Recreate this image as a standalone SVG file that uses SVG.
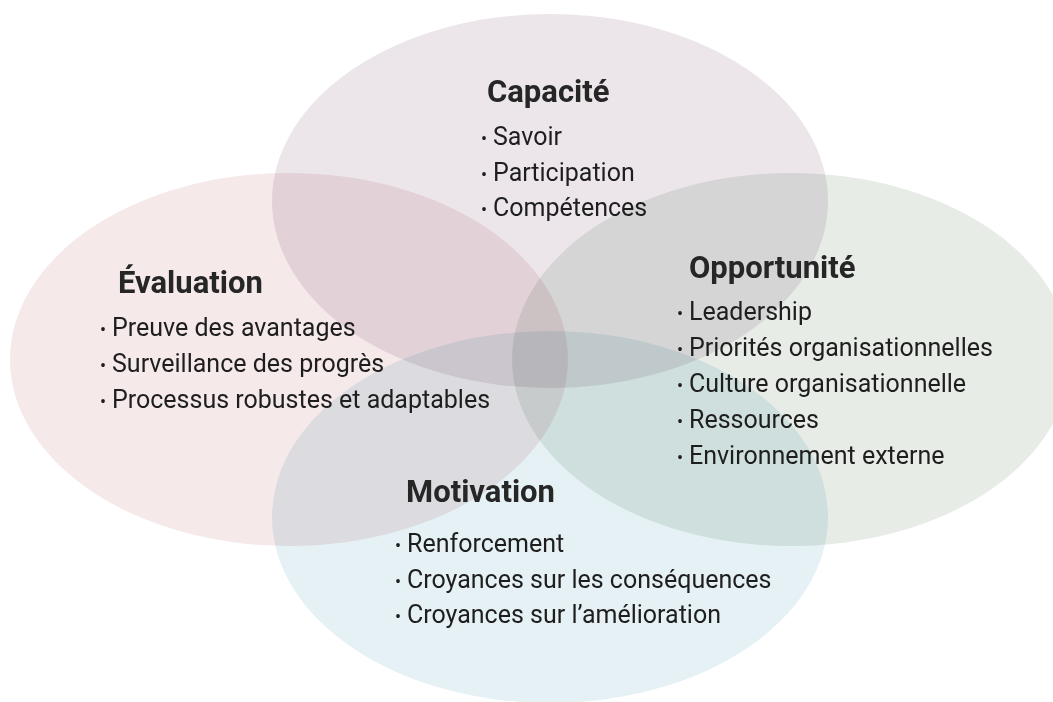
<svg xmlns="http://www.w3.org/2000/svg" width="1053" height="702" viewBox="0 0 1053 702">
<style>
.e{mix-blend-mode:multiply}
.t{font-family:Roboto,"Noto Sans",sans-serif;font-weight:700;font-size:31px;fill:#262626}
.i{font-family:Roboto,"Noto Sans",sans-serif;font-size:25px;fill:#1e1e1e}
.b{font-size:18px}
</style>
<rect width="1053" height="702" fill="#ffffff"/>
<g id="ellipses">
<ellipse id="e-capacite" class="e" cx="550" cy="201" rx="278" ry="187" fill="#ECE6EB"/>
<ellipse id="e-evaluation" class="e" cx="289" cy="359.5" rx="279" ry="186.5" fill="#F5E9EA"/>
<ellipse id="e-opportunite" class="e" cx="791" cy="359.5" rx="279" ry="186.5" fill="#E7ECE7"/>
<ellipse id="e-motivation" class="e" cx="550" cy="517" rx="278" ry="186" fill="#E5F1F5"/>
</g>
<g id="connectors"></g>
<g id="capacite">
<text class="t" x="487" y="102">Capacité</text>
<text class="i" y="145"><tspan class="b" x="481">•</tspan><tspan x="493">Savoir</tspan></text>
<text class="i" y="180.5"><tspan class="b" x="481">•</tspan><tspan x="493">Participation</tspan></text>
<text class="i" y="216"><tspan class="b" x="481">•</tspan><tspan x="493">Compétences</tspan></text>
</g>
<g id="evaluation">
<text class="t" x="118" y="293">Évaluation</text>
<text class="i" y="336"><tspan class="b" x="100">•</tspan><tspan x="112">Preuve des avantages</tspan></text>
<text class="i" y="372"><tspan class="b" x="100">•</tspan><tspan x="112">Surveillance des progrès</tspan></text>
<text class="i" y="408"><tspan class="b" x="100">•</tspan><tspan x="112">Processus robustes et adaptables</tspan></text>
</g>
<g id="opportunite">
<text class="t" x="689" y="278">Opportunité</text>
<text class="i" y="320"><tspan class="b" x="677">•</tspan><tspan x="689">Leadership</tspan></text>
<text class="i" y="356"><tspan class="b" x="677">•</tspan><tspan x="689">Priorités organisationnelles</tspan></text>
<text class="i" y="392"><tspan class="b" x="677">•</tspan><tspan x="689">Culture organisationnelle</tspan></text>
<text class="i" y="428"><tspan class="b" x="677">•</tspan><tspan x="689">Ressources</tspan></text>
<text class="i" y="464"><tspan class="b" x="677">•</tspan><tspan x="689">Environnement externe</tspan></text>
</g>
<g id="motivation">
<text class="t" x="406" y="502">Motivation</text>
<text class="i" y="552"><tspan class="b" x="395">•</tspan><tspan x="407">Renforcement</tspan></text>
<text class="i" y="588"><tspan class="b" x="395">•</tspan><tspan x="407">Croyances sur les conséquences</tspan></text>
<text class="i" y="623"><tspan class="b" x="395">•</tspan><tspan x="407">Croyances sur l’amélioration</tspan></text>
</g>
</svg>
